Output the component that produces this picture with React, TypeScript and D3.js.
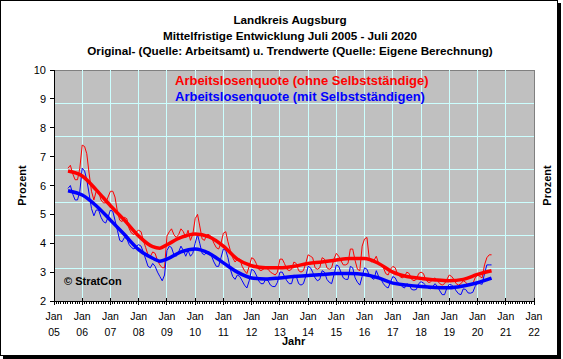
import React from "react";
import * as d3 from "d3";

const titleLines = [
  "Landkreis Augsburg",
  "Mittelfristige Entwicklung Juli 2005 - Juli 2020",
  "Original- (Quelle: Arbeitsamt) u. Trendwerte (Quelle: Eigene Berechnung)",
];
const legendLabels = [
  "Arbeitslosenquote (ohne Selbstständige)",
  "Arbeitslosenquote (mit Selbstständigen)",
];
const seriesColors = ["#FF0000", "#0000FF"];
const yTicks = [2, 3, 4, 5, 6, 7, 8, 9, 10];
const xYears = ["05", "06", "07", "08", "09", "10", "11", "12", "13", "14", "15", "16", "17", "18", "19", "20", "21", "22"];

const originalStart = "2005-07";
// Monthly, Jul 2005 - Jul 2020
const redOriginal = [
  6.6, 6.7, 6.4, 6.2, 6.2, 6.6,
  7.4, 7.35, 7.1, 6.4, 5.8, 5.5, 5.8, 5.8, 5.5, 5.4, 5.4, 5.6,
  5.8, 5.8, 5.6, 5.1, 4.8, 4.75, 4.9, 4.85, 4.5, 4.35, 4.3, 4.4,
  4.45, 4.4, 4.1, 3.85, 3.6, 3.55, 3.7, 3.65, 3.4, 3.25, 3.15, 3.15,
  4.25, 4.4, 4.5, 4.3, 4.2, 4.3, 4.5, 4.4, 4.2, 4.45, 4.1, 4.3,
  4.85, 5.0, 4.6, 4.15, 4.1, 4.3, 4.3, 4.2, 4.0, 3.85, 3.8, 4.0,
  4.35, 4.4, 4.05, 3.75, 3.5, 3.35, 3.45, 3.45, 3.2, 3.05, 2.95, 3.2,
  3.5, 3.45, 3.3, 3.1, 3.05, 3.1, 3.15, 3.1, 3.0, 2.95, 2.9, 3.0,
  3.45, 3.45, 3.3, 3.1, 3.05, 3.1, 3.35, 3.3, 3.05, 3.0, 3.05, 3.3,
  3.6, 3.55, 3.5, 3.15, 3.1, 3.15, 3.5, 3.45, 3.15, 3.1, 3.15, 3.45,
  3.65, 3.55, 3.4, 3.25, 3.25, 3.3, 3.8, 3.8, 3.4, 3.1, 3.05, 3.9,
  4.15, 4.2, 3.5, 3.35, 3.4, 3.55, 3.3, 3.25, 3.15, 2.95, 2.9, 3.1,
  3.2, 3.15, 2.95, 2.85, 2.8, 2.85, 3.0, 2.95, 2.75, 2.7, 2.75, 2.95,
  3.0, 2.95, 2.75, 2.65, 2.65, 2.75, 2.8, 2.7, 2.6, 2.55, 2.6, 2.75,
  2.9, 2.85, 2.75, 2.6, 2.55, 2.6, 2.7, 2.65, 2.55, 2.55, 2.6, 2.8,
  2.9, 2.85, 2.8, 3.25, 3.5, 3.6, 3.6,
];
const blueOriginal = [
  5.9, 6.0, 5.7, 5.5, 5.5, 5.8,
  6.6, 6.5, 6.2, 5.7, 5.2, 4.95, 5.15, 5.15, 4.9, 4.75, 4.7, 4.9,
  5.15, 5.1, 4.8, 4.45, 4.1, 4.05, 4.2, 4.15, 3.95, 3.85, 3.8, 3.9,
  3.95, 3.9, 3.7, 3.45, 3.2, 3.15, 3.3, 3.2, 3.0, 2.85, 2.7, 2.9,
  3.75, 3.9, 3.85, 3.6, 3.55, 3.7, 3.9, 3.75, 3.55, 3.75, 3.55, 3.65,
  4.0, 4.3, 4.0, 3.65, 3.6, 3.7, 3.7, 3.55, 3.35, 3.2, 3.2, 3.5,
  3.8, 3.75, 3.5, 3.1, 2.85, 2.75, 2.9, 2.85, 2.7, 2.55, 2.45, 2.7,
  3.1, 3.05, 2.9, 2.7, 2.6, 2.6, 2.75, 2.7, 2.55, 2.5, 2.5, 2.65,
  3.0, 3.0, 2.85, 2.7, 2.6, 2.6, 2.9, 2.85, 2.6, 2.55, 2.6, 2.85,
  3.2, 3.15, 3.0, 2.8, 2.7, 2.75, 3.05, 3.0, 2.75, 2.65, 2.6, 2.9,
  3.25, 3.2, 3.0, 2.8, 2.75, 2.75, 3.2, 3.15, 2.8, 2.65, 2.55, 2.85,
  3.15, 3.1, 2.9, 2.8, 2.75, 3.05, 2.85, 2.75, 2.6, 2.5, 2.45, 2.65,
  2.85, 2.8, 2.65, 2.6, 2.5, 2.45, 2.6, 2.55, 2.4, 2.38, 2.4, 2.6,
  2.67, 2.62, 2.55, 2.45, 2.42, 2.5, 2.6, 2.5, 2.35, 2.22, 2.22, 2.45,
  2.58, 2.55, 2.48, 2.35, 2.25, 2.22, 2.42, 2.4, 2.28, 2.27, 2.3, 2.5,
  2.62, 2.6, 2.58, 2.95, 3.25, 3.25, 3.25,
];

const trendDates = [
  "2005-07", "2006-01", "2006-07", "2007-01", "2007-07", "2008-01", "2008-07", "2008-10",
  "2009-01", "2009-07", "2010-01", "2010-07", "2011-01", "2011-07", "2012-01", "2012-07",
  "2013-01", "2013-07", "2014-01", "2014-07", "2015-01", "2015-07", "2016-01", "2016-07",
  "2017-01", "2017-07", "2018-01", "2018-07", "2019-01", "2019-07", "2020-01", "2020-07",
];
const redTrend = [
  6.5, 6.33, 5.85, 5.3, 4.8, 4.25, 3.88, 3.83, 3.95, 4.2, 4.32, 4.22, 3.9, 3.45, 3.22, 3.15,
  3.15, 3.2, 3.3, 3.35, 3.42, 3.47, 3.47, 3.3, 3.0, 2.85, 2.78, 2.73, 2.7, 2.75, 2.92, 3.05,
];
const blueTrend = [
  5.82, 5.67, 5.3, 4.8, 4.3, 3.78, 3.48, 3.38, 3.45, 3.7, 3.8, 3.65, 3.32, 3.0, 2.8, 2.76,
  2.8, 2.85, 2.88, 2.92, 2.95, 2.95, 2.92, 2.8, 2.62, 2.55, 2.5, 2.47, 2.46, 2.52, 2.63, 2.79,
];

const W = 563;
const H = 359;
const plot = { left: 54, top: 70, right: 534, bottom: 301 };
const FONT = "Arial, 'Liberation Sans', sans-serif";

const parseMonth = d3.timeParse("%Y-%m");

export default function App() {
  const x = d3
    .scaleTime()
    .domain([new Date(2005, 0, 1), new Date(2022, 0, 1)])
    .range([plot.left, plot.right]);
  const y = d3.scaleLinear().domain([2, 10]).range([plot.bottom, plot.top]);
  const gridY = d3.scaleLinear().domain([0, 7]).range([plot.bottom, plot.top]);

  const start = parseMonth(originalStart) as Date;
  const monthly = (vals: number[]) =>
    vals.map((v, i) => ({ d: d3.timeMonth.offset(start, i), v }));
  const trend = (vals: number[]) =>
    vals.map((v, i) => ({ d: parseMonth(trendDates[i]) as Date, v }));

  const lineThin = d3
    .line<{ d: Date; v: number }>()
    .x((p) => x(p.d))
    .y((p) => y(p.v));
  const lineTrend = d3
    .line<{ d: Date; v: number }>()
    .x((p) => x(p.d))
    .y((p) => y(p.v))
    .curve(d3.curveMonotoneX);

  const years = xYears.map((yy) => new Date(2000 + Number(yy), 0, 1));
  const months = d3.timeMonth.range(new Date(2005, 0, 1), new Date(2022, 0, 2));

  return (
    <svg
      width={W}
      height={H}
      style={{ position: "absolute", left: 0, top: 0, background: "#fff" }}
      fontFamily={FONT}
    >
      <rect x={0} y={0} width={W} height={H} fill="#fff" />
      {/* frame with shadow */}
      <rect x={0.5} y={0.5} width={557} height={355} fill="none" stroke="#000" />
      <rect x={558} y={3} width={3} height={356} fill="#000" />
      <rect x={3} y={356} width={558} height={3} fill="#000" />

      {/* titles */}
      {titleLines.map((t, i) => (
        <text
          key={t}
          x={290}
          y={24 + i * 15.5}
          textAnchor="middle"
          fontSize={11.7}
          fontWeight="bold"
          fill="#000"
        >
          {t}
        </text>
      ))}

      {/* plot area */}
      <rect
        x={plot.left}
        y={plot.top}
        width={plot.right - plot.left}
        height={plot.bottom - plot.top}
        fill="#C0C0C0"
        stroke="#808080"
        shapeRendering="crispEdges"
      />
      {/* gridlines */}
      <g stroke="#CCFFFF" strokeWidth={1} shapeRendering="crispEdges">
        {d3.range(1, 7).map((k) => (
          <line key={"h" + k} x1={plot.left} x2={plot.right} y1={gridY(k)} y2={gridY(k)} />
        ))}
        {years.slice(1, -1).map((d, k) => (
          <line key={"v" + k} x1={x(d)} x2={x(d)} y1={plot.top} y2={plot.bottom} />
        ))}
      </g>

      {/* legend */}
      {legendLabels.map((t, i) => (
        <text
          key={t}
          x={175}
          y={84.5 + i * 16}
          fontSize={13}
          fontWeight="bold"
          fill={seriesColors[i]}
        >
          {t}
        </text>
      ))}

      <text x={64} y={285} fontSize={11} fontWeight="bold" fill="#000">
        © StratCon
      </text>

      {/* data */}
      <path d={lineThin(monthly(redOriginal)) || ""} fill="none" stroke={seriesColors[0]} strokeWidth={1} />
      <path d={lineThin(monthly(blueOriginal)) || ""} fill="none" stroke={seriesColors[1]} strokeWidth={1} />
      <path d={lineTrend(trend(redTrend)) || ""} fill="none" stroke={seriesColors[0]} strokeWidth={3.5} />
      <path d={lineTrend(trend(blueTrend)) || ""} fill="none" stroke={seriesColors[1]} strokeWidth={3.5} />

      {/* axes */}
      <g stroke="#000" shapeRendering="crispEdges">
        <line x1={plot.left} x2={plot.left} y1={plot.top} y2={plot.bottom} />
        <line x1={plot.left} x2={plot.right} y1={plot.bottom} y2={plot.bottom} />
        {yTicks.map((t) => (
          <line key={"yt" + t} x1={plot.left - 4} x2={plot.left} y1={y(t)} y2={y(t)} />
        ))}
        {months.map((m, k) => (
          <line key={"mt" + k} x1={x(m)} x2={x(m)} y1={plot.bottom} y2={plot.bottom + 3} />
        ))}
        {years.map((d, k) => (
          <line key={"yr" + k} x1={x(d)} x2={x(d)} y1={plot.bottom - 3} y2={plot.bottom + 4} />
        ))}
      </g>
      {yTicks.map((t) => (
        <text key={"yl" + t} x={46} y={y(t) + 4} textAnchor="end" fontSize={11} fill="#000">
          {t}
        </text>
      ))}
      {years.map((d, k) => (
        <g key={"xl" + k}>
          <text x={x(d)} y={320} textAnchor="middle" fontSize={10.5} fill="#000">
            Jan
          </text>
          <text x={x(d)} y={335.5} textAnchor="middle" fontSize={10.5} fill="#000">
            {xYears[k]}
          </text>
        </g>
      ))}
      <text x={282} y={345} fontSize={11} fontWeight="bold" fill="#000">
        Jahr
      </text>
      <text
        transform={`translate(26,${(plot.top + plot.bottom) / 2}) rotate(-90)`}
        textAnchor="middle"
        fontSize={11}
        fontWeight="bold"
        fill="#000"
      >
        Prozent
      </text>
      <text
        transform={`translate(551,${(plot.top + plot.bottom) / 2}) rotate(-90)`}
        textAnchor="middle"
        fontSize={11}
        fontWeight="bold"
        fill="#000"
      >
        Prozent
      </text>
    </svg>
  );
}
